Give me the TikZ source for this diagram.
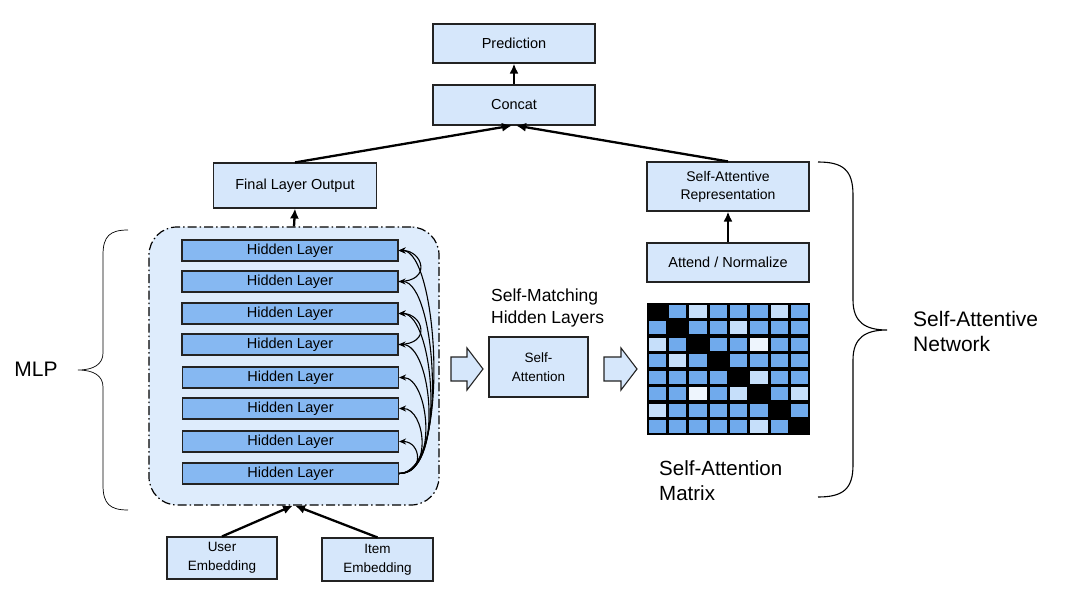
\documentclass[tikz,border=0pt]{standalone}
\usepackage{fontspec}
\setmainfont{Liberation Sans}
\usetikzlibrary{arrows.meta}
\definecolor{boxfill}{RGB}{214,231,251}
\definecolor{regionfill}{RGB}{222,236,252}
\definecolor{hidfill}{RGB}{134,184,242}
\definecolor{boxline}{RGB}{35,35,35}
\definecolor{cell1}{RGB}{112,170,236}
\definecolor{cell2}{RGB}{198,223,250}
\definecolor{cell3}{RGB}{238,245,253}
\begin{document}
\begin{tikzpicture}[x=1pt,y=-1pt,
  box/.style={draw=boxline, fill=boxfill, line width=1.1pt, inner sep=0pt, align=center,
    font=\fontsize{14.5}{18}\selectfont},
  hid/.style={draw=boxline, fill=hidfill, line width=1.1pt, inner sep=0pt,
    minimum width=216pt, minimum height=21pt, font=\fontsize{14.5}{18}\selectfont},
  bigarrow/.style={-{Latex[length=10pt,width=9pt]}, line width=2.3pt, black},
  skip/.style={-{Stealth[length=7pt,width=6pt]}, line width=1.1pt, black},
  blockarrow/.style={draw=boxline, fill=boxfill, line width=1.1pt},
  bigtext/.style={font=\fontsize{21}{25}\selectfont, align=left, inner sep=0pt},
  bracestyle/.style={draw=black, line width=0.9pt}
]
\useasboundingbox (0,0) rectangle (1076,602);

% top boxes
\node[box, minimum width=162pt, minimum height=39pt] (pred) at (514,43.5) {Prediction};
\node[box, minimum width=162pt, minimum height=40pt] (concat) at (514,105) {Concat};
\node[box, minimum width=163pt, minimum height=45pt] (flo) at (295,185.5) {Final Layer Output};
\node[box, minimum width=162pt, minimum height=49pt, font=\fontsize{14}{18}\selectfont] (sar) at (728,186.5) {Self-Attentive\\Representation};
\node[box, minimum width=162pt, minimum height=39pt] (att) at (728,262.5) {Attend / Normalize};

% MLP region
\node[draw=black, fill=regionfill, line width=1.2pt, rounded corners=28pt,
  dash pattern=on 9pt off 3pt on 1.5pt off 3pt,
  minimum width=290pt, minimum height=278pt, inner sep=0pt] (mlp) at (294,366) {};

% hidden layers
\node[hid] (h1) at (290,250.5) {Hidden Layer};
\node[hid] (h2) at (290,281.5) {Hidden Layer};
\node[hid] (h3) at (290,313.5) {Hidden Layer};
\node[hid] (h4) at (290,344.5) {Hidden Layer};
\node[hid] (h5) at (290.5,377.5) {Hidden Layer};
\node[hid] (h6) at (290.5,408.5) {Hidden Layer};
\node[hid] (h7) at (290.5,441.5) {Hidden Layer};
\node[hid] (h8) at (290.5,473.5) {Hidden Layer};

% skip connections
\draw[skip] (h8.east) .. controls +(26,0) and +(22,0) .. (h7.east);
\draw[skip] (h8.east) .. controls +(34,0) and +(26,0) .. (h6.east);
\draw[skip] (h8.east) .. controls +(40,0) and +(30,0) .. (h5.east);
\draw[skip] (h8.east) .. controls +(45,0) and +(34,0) .. (h4.east);
\draw[skip] (h8.east) .. controls +(48,0) and +(36,0) .. (h3.east);
\draw[skip] (h8.east) .. controls +(50,0) and +(38,0) .. (h2.east);
\draw[skip] (h8.east) .. controls +(52,0) and +(40,0) .. (h1.east);
\draw[skip] (h2.east) .. controls +(34,0) and +(24,0) .. (h1.east);
\draw[skip] (h4.east) .. controls +(34,0) and +(24,0) .. (h3.east);

% embeddings
\node[box, minimum width=110pt, minimum height=42pt, font=\fontsize{13.5}{19}\selectfont] (user) at (222,558) {User\\Embedding};
\node[box, minimum width=111pt, minimum height=43pt, font=\fontsize{13.5}{19}\selectfont] (item) at (377.5,559.5) {Item\\Embedding};

% self attention
\node[box, minimum width=99pt, minimum height=60pt, font=\fontsize{13.5}{19}\selectfont] (sa) at (538.5,367) {Self-\\Attention};
\node[bigtext, font=\fontsize{17.5}{22}\selectfont, anchor=west] (smh) at (491,308) {Self-Matching\\Hidden Layers};

% block arrows
\draw[blockarrow] (451,357) -- (467,357) -- (467,348) -- (483,369) -- (467,390) -- (467,381) -- (451,381) -- cycle;
\draw[blockarrow] (604,357) -- (621,357) -- (621,348) -- (637,369) -- (621,390) -- (621,381) -- (604,381) -- cycle;

% attention matrix
\node[fill=black, minimum width=163pt, minimum height=132pt, inner sep=0pt, anchor=north west] (mat) at (647,303) {};
\foreach \row [count=\r from 0] in {{0,1,2,1,1,1,2,1},{1,0,1,1,2,1,1,1},{2,1,0,1,1,3,1,1},{1,2,1,0,1,1,1,1},{1,1,1,1,0,2,1,1},{1,1,3,1,2,0,1,2},{2,1,1,1,1,1,0,1},{1,1,1,1,1,2,1,0}}{
  \foreach \v [count=\c from 0] in \row {
    \ifnum\v>0
      \fill[cell\v] ({647+\c*20.375+1.6},{303+\r*16.5+1.6}) rectangle ({647+(\c+1)*20.375-1.6},{303+(\r+1)*16.5-1.6});
    \fi
  }
}
\node[bigtext, font=\fontsize{20.5}{25}\selectfont, anchor=west] (samtext) at (659,480.5) {Self-Attention\\Matrix};

% connectors
\draw[bigarrow] (concat.north) -- (pred.south);
\draw[bigarrow] (flo.north) -- ([xshift=-2pt]concat.south);
\draw[bigarrow] (sar.north) -- ([xshift=2pt]concat.south);
\draw[bigarrow] (att.north) -- (sar.south);
\draw[bigarrow] (mlp.north) -- (flo.south);
\draw[bigarrow] (user.north) -- ([xshift=-1pt]mlp.south);
\draw[bigarrow] (item.north) -- ([xshift=1pt]mlp.south);

% braces
\coordinate (lbt) at (128,230);
\coordinate (lbb) at (128,510);
\coordinate (lbtip) at (78,370);
\draw[bracestyle, line width=0.7pt] (lbt) .. controls (110,230) and (103,236) .. (103,255) -- (103,353) .. controls (103,364) and (94,370) .. (lbtip)
  .. controls (94,370) and (103,376) .. (103,387) -- (103,485) .. controls (103,504) and (110,510) .. (lbb);
\node[bigtext] (mlptext) at (36,369) {MLP};

\coordinate (rbt) at (818,162);
\coordinate (rbb) at (818,497);
\coordinate (rbtip) at (887,330);
\draw[bracestyle, line width=1.1pt] (rbt) .. controls (843,162) and (853,170) .. (853,195) -- (853,300) .. controls (853,322) and (865,330) .. (rbtip)
  .. controls (865,330) and (853,338) .. (853,360) -- (853,465) .. controls (853,489) and (843,497) .. (rbb);
\node[bigtext, anchor=west] (santext) at (913,331) {Self-Attentive\\Network};
\end{tikzpicture}
\end{document}
